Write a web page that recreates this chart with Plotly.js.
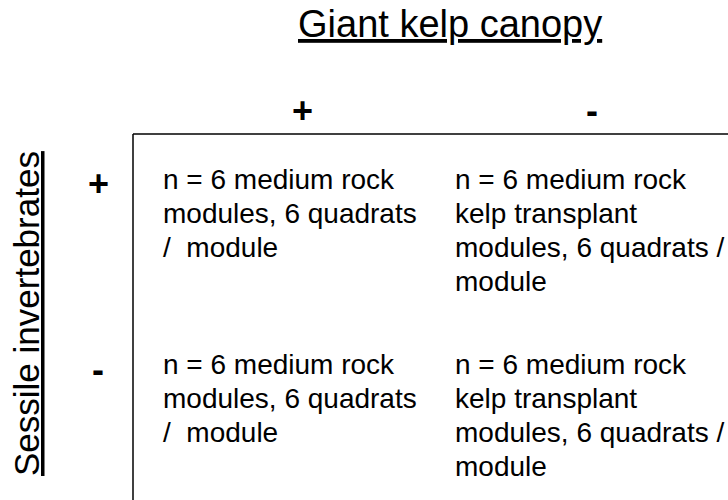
<!DOCTYPE html>
<html>
<head>
<meta charset="utf-8">
<script src="https://cdn.plot.ly/plotly-3.0.1.min.js"></script>
<style>html,body{margin:0;padding:0;background:#fff;}#chart{width:728px;height:500px;}</style>
</head>
<body>
<div id="chart"></div>
<script>
// ---- content ----
const topTitle = 'Giant kelp canopy';
const sideTitle = 'Sessile invertebrates';
const colLabels = ['+', '-'];
const rowLabels = ['+', '-'];
const cellPlusPlus = ['n = 6 medium rock', 'modules, 6 quadrats', '/  module'];
const cellPlusMinus = ['n = 6 medium rock', 'kelp transplant', 'modules, 6 quadrats /', 'module'];
const cellMinusPlus = ['n = 6 medium rock', 'modules, 6 quadrats', '/  module'];
const cellMinusMinus = ['n = 6 medium rock', 'kelp transplant', 'modules, 6 quadrats /', 'module'];

// ---- layout geometry (pixel-like axis coordinates) ----
const W = 728, H = 500;
const FONT = 'Liberation Sans, Arial, sans-serif';
const colX = [302, 592];        // centers of column labels
const rowY = [183, 369];        // centers of row labels
const cellX = [161, 453];       // left edge of cell text
const cellY0 = [179, 364];      // first line center
const lineStep = 34;
const boxLeft = 133, boxTop = 134;

const cells = [[cellPlusPlus, cellPlusMinus], [cellMinusPlus, cellMinusMinus]];

const annotations = [];
annotations.push({
  x: 450, y: 24, xref: 'x', yref: 'y', text: topTitle, showarrow: false,
  xanchor: 'center', yanchor: 'middle',
  font: {family: FONT, size: 38, color: '#000', lineposition: 'under'}
});
annotations.push({
  x: 26, y: 314, xref: 'x', yref: 'y', text: sideTitle, showarrow: false,
  textangle: -90, xanchor: 'center', yanchor: 'middle',
  font: {family: FONT, size: 35, color: '#000', lineposition: 'under'}
});
colLabels.forEach((t, i) => annotations.push({
  x: colX[i], y: 110, xref: 'x', yref: 'y', text: '<b>' + t + '</b>', showarrow: false,
  xanchor: 'center', yanchor: 'middle', font: {family: FONT, size: 36, color: '#000'}
}));
rowLabels.forEach((t, i) => annotations.push({
  x: 98, y: rowY[i], xref: 'x', yref: 'y', text: '<b>' + t + '</b>', showarrow: false,
  xanchor: 'center', yanchor: 'middle', font: {family: FONT, size: 36, color: '#000'}
}));
cells.forEach((row, r) => row.forEach((lines, c) => lines.forEach((ln, k) => annotations.push({
  x: cellX[c], y: cellY0[r] + k * lineStep, xref: 'x', yref: 'y', text: ln, showarrow: false,
  xanchor: 'left', yanchor: 'middle', align: 'left',
  font: {family: FONT, size: 28, color: '#000'}
}))));

const shapes = [
  {type: 'line', xref: 'x', yref: 'y', x0: boxLeft, x1: W, y0: boxTop, y1: boxTop, line: {color: '#000', width: 1.5}},
  {type: 'line', xref: 'x', yref: 'y', x0: boxLeft, x1: boxLeft, y0: boxTop, y1: H, line: {color: '#000', width: 1.5}}
];

const layout = {
  width: W, height: H,
  margin: {l: 0, r: 0, t: 0, b: 0},
  paper_bgcolor: '#fff', plot_bgcolor: '#fff',
  xaxis: {range: [0, W], visible: false, fixedrange: true},
  yaxis: {range: [H, 0], visible: false, fixedrange: true},
  showlegend: false,
  annotations: annotations,
  shapes: shapes
};

Plotly.newPlot('chart', [{x: [], y: [], type: 'scatter', hoverinfo: 'skip'}], layout, {displayModeBar: false, staticPlot: true});
</script>
</body>
</html>
